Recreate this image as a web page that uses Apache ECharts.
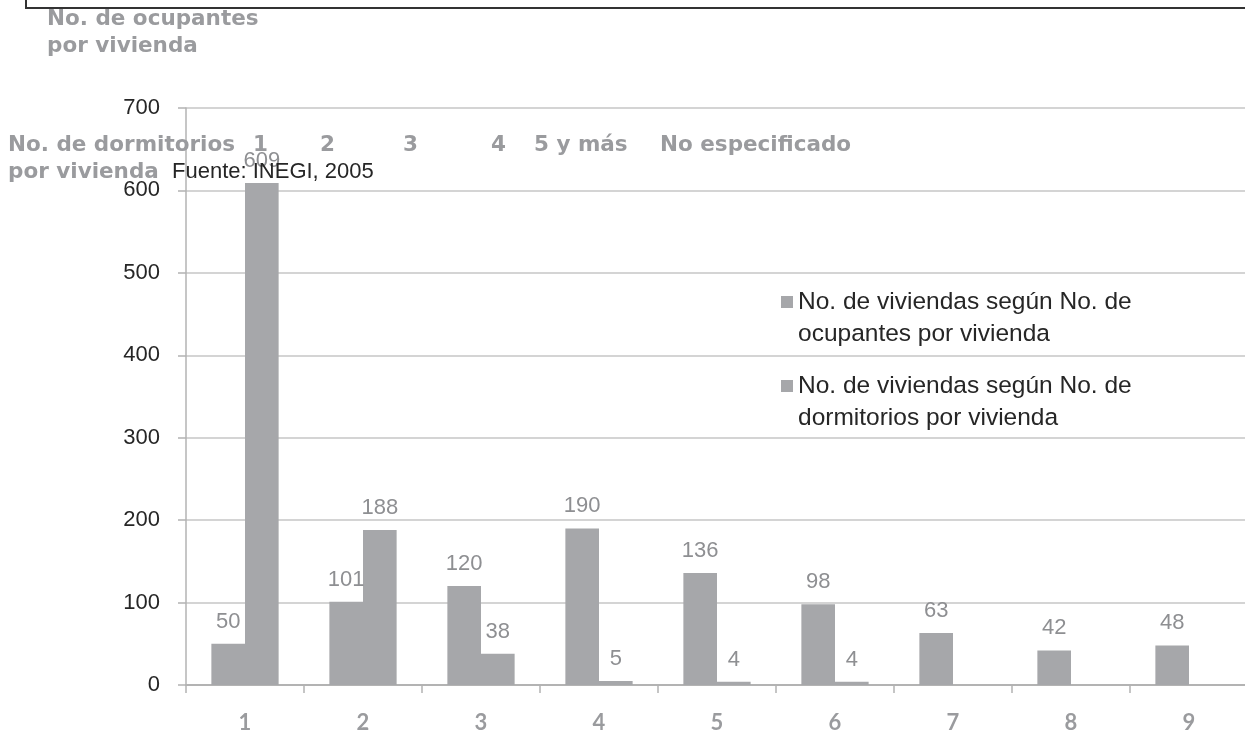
<!DOCTYPE html>
<html>
<head>
<meta charset="utf-8">
<script src="https://cdn.jsdelivr.net/npm/echarts@6/dist/echarts.min.js"></script>
<style>
html,body{margin:0;padding:0;background:#fff;}
#chart{width:1245px;height:731px;}
</style>
</head>
<body>
<div id="chart"></div>
<script>
const categories = ['1','2','3','4','5','6','7','8','9'];
const ocupantes = [50, 101, 120, 190, 136, 98, 63, 42, 48];
const dormitorios = [609, 188, 38, 5, 4, 4, null, null, null];
const seriesNames = [
  'No. de viviendas según No. de\nocupantes por vivienda',
  'No. de viviendas según No. de\ndormitorios por vivienda'
];
const yTicks = {min: 0, max: 700, interval: 100};
const dormHeader = ['1', '2', '3', '4', '5 y más', 'No especificado'];

const chart = echarts.init(document.getElementById('chart'));
const barColor = '#a6a7aa';
const labelStyle = {show: true, position: 'top', distance: 11, color: '#8e8f92', fontSize: 22, fontFamily: 'Liberation Sans'};
const headFont = {fontFamily: 'DejaVu Sans', fontWeight: 'bold', fontSize: 21.5, fill: '#9a9b9e'};
const headX = [253, 320, 403, 491, 534, 660];

const graphics = [
  {type: 'rect', shape: {x: 26, y: -10, width: 1240, height: 18}, style: {fill: 'none', stroke: '#333', lineWidth: 2}, z: 100},
  {type: 'text', left: 47, top: 8, style: Object.assign({text: 'No. de ocupantes'}, headFont), z: 100},
  {type: 'text', left: 47, top: 35, style: Object.assign({text: 'por vivienda'}, headFont), z: 100},
  {type: 'text', left: 8, top: 134, style: Object.assign({text: 'No. de dormitorios'}, headFont), z: 100},
  {type: 'text', left: 8, top: 161, style: Object.assign({text: 'por vivienda'}, headFont), z: 100},
  {type: 'text', left: 172, top: 161, style: {text: 'Fuente: INEGI, 2005', fontFamily: 'Liberation Sans', fontSize: 22, fill: '#262626'}, z: 100}
];
dormHeader.forEach((t, i) => {
  graphics.push({type: 'text', left: headX[i], top: 134, style: Object.assign({text: t}, headFont), z: 100});
});

chart.setOption({
  animation: false,
  backgroundColor: '#fff',
  grid: {left: 186, top: 108, width: 1062, height: 577, containLabel: false, outerBoundsMode: 'none'},
  legend: {
    orient: 'vertical',
    left: 776,
    top: 249,
    itemWidth: 12,
    itemHeight: 12,
    itemGap: -12,
    icon: 'rect',
    formatter: name => ' \n' + name,
    textStyle: {fontFamily: 'Liberation Sans', fontSize: 24.5, color: '#262626', lineHeight: 32},
    data: seriesNames
  },
  xAxis: {
    type: 'category',
    data: categories,
    axisLine: {lineStyle: {color: '#b3b3b3', width: 2}},
    axisTick: {show: true, length: 8, lineStyle: {color: '#b3b3b3', width: 1.5}},
    axisLabel: {color: '#9a9b9e', fontSize: 22, fontWeight: 'bold', fontFamily: 'Lato', margin: 27}
  },
  yAxis: {
    type: 'value',
    min: yTicks.min, max: yTicks.max, interval: yTicks.interval,
    axisLine: {show: true, lineStyle: {color: '#b3b3b3', width: 1.5}},
    axisTick: {show: true, length: 8, lineStyle: {color: '#b3b3b3', width: 1.5}},
    axisLabel: {color: '#262626', fontSize: 22, fontFamily: 'Liberation Sans', margin: 26},
    splitLine: {lineStyle: {color: '#c6c6c6', width: 1.5}}
  },
  series: [
    {name: seriesNames[0], type: 'bar', data: ocupantes, barGap: '0%', barCategoryGap: '43%',
     itemStyle: {color: barColor}, label: labelStyle},
    {name: seriesNames[1], type: 'bar', data: dormitorios, barGap: '0%', barCategoryGap: '43%',
     itemStyle: {color: barColor}, label: labelStyle}
  ],
  graphic: graphics
});
</script>
</body>
</html>
